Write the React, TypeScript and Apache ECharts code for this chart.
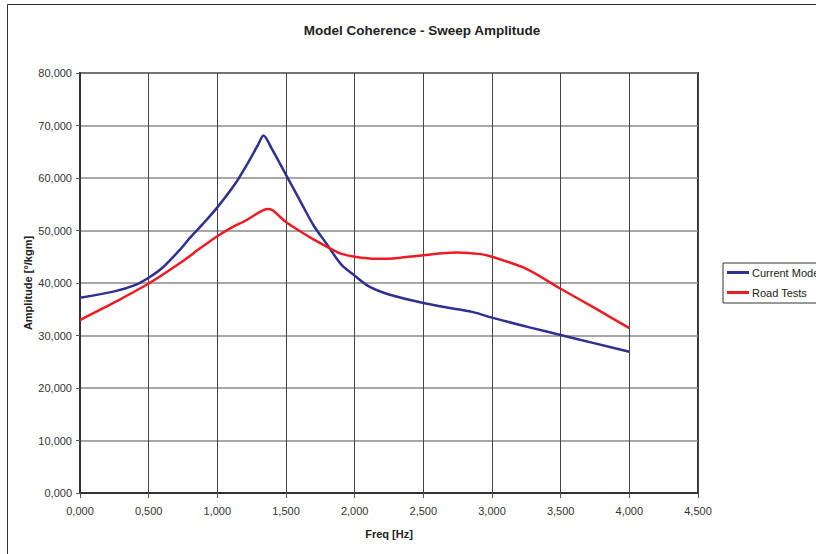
import React, { useEffect, useRef } from "react";
import * as echarts from "echarts";

const title = "Model Coherence - Sweep Amplitude";
const xAxisName = "Freq [Hz]";
const yAxisName = "Amplitude [°/kgm]";
const seriesNames = ["Current Model", "Road Tests"];

const currentFreq = [0, 0.25, 0.4, 0.5, 0.6, 0.73, 0.8, 0.9, 1.0, 1.13, 1.21, 1.3, 1.335, 1.4, 1.5, 1.6, 1.7, 1.8, 1.9, 2.0, 2.1, 2.25, 2.5, 2.75, 2.87, 3.0, 3.28, 3.5, 3.75, 4.0];
const currentAmp = [37.2, 38.4, 39.6, 41.0, 42.9, 46.4, 48.6, 51.4, 54.4, 58.9, 62.3, 66.5, 68.1, 65.4, 60.6, 55.8, 51.0, 47.3, 43.6, 41.4, 39.4, 37.8, 36.2, 35.0, 34.4, 33.4, 31.5, 30.1, 28.5, 26.9];

const roadFreq = [0, 0.25, 0.5, 0.75, 0.874, 1.0, 1.1, 1.214, 1.3, 1.364, 1.4, 1.5, 1.6, 1.7, 1.82, 1.9, 2.0, 2.16, 2.3, 2.5, 2.74, 2.92, 3.0, 3.25, 3.5, 3.75, 4.0];
const roadAmp = [32.95, 36.3, 39.9, 44.2, 46.6, 48.9, 50.5, 52.0, 53.4, 54.1, 53.9, 51.6, 49.9, 48.3, 46.6, 45.6, 45.0, 44.6, 44.7, 45.3, 45.8, 45.5, 45.0, 42.7, 38.9, 35.2, 31.4];

const fmt = (v: number) => v.toFixed(3).replace(".", ",");

export default function App() {
  const ref = useRef<HTMLDivElement>(null);
  useEffect(() => {
    document.body.style.margin = "0";
    if (!ref.current) return;
    const chart = echarts.init(ref.current, undefined, { renderer: "svg" });
    const font = "'Liberation Sans', Arial, sans-serif";
    chart.setOption({
      animation: false,
      backgroundColor: "#ffffff",
      textStyle: { fontFamily: font },
      title: {
        text: title,
        left: 417,
        top: 18,
        textAlign: "center",
        textStyle: { fontSize: 13.5, fontWeight: "bold", color: "#222", fontFamily: font },
      },
      graphic: [
        {
          type: "rect",
          shape: { x: 7.5, y: 4.5, width: 1200, height: 1200 },
          style: { fill: "none", stroke: "#333", lineWidth: 1 },
          silent: true,
          z: -10,
        },
      ],
      legend: {
        orient: "vertical",
        left: 723,
        top: 263,
        padding: [4, 40, 5, 4],
        itemGap: 9,
        itemWidth: 22,
        itemHeight: 3,
        icon: "rect",
        borderColor: "#333",
        borderWidth: 1,
        textStyle: { fontSize: 11, color: "#222", fontFamily: font, padding: [0, 0, 0, -2] },
        data: seriesNames,
      },
      grid: {
        left: 80,
        right: 118,
        top: 73,
        bottom: 61,
        show: true,
        borderColor: "#333",
        borderWidth: 2,
      },
      xAxis: {
        type: "value",
        min: 0,
        max: 4.5,
        interval: 0.5,
        name: xAxisName,
        nameLocation: "middle",
        nameGap: 35,
        nameMoveOverlap: false,
        nameTextStyle: { fontSize: 11, fontWeight: "bold", color: "#222", fontFamily: font },
        axisLine: { show: true, lineStyle: { color: "#333", width: 2 } },
        axisTick: { show: true, length: 5, lineStyle: { color: "#555" } },
        axisLabel: { formatter: fmt, fontSize: 11, color: "#333", margin: 12, fontFamily: font },
        splitLine: { show: true, lineStyle: { color: "#444", width: 1 } },
      },
      yAxis: {
        type: "value",
        min: 0,
        max: 80,
        interval: 10,
        name: yAxisName,
        nameLocation: "middle",
        nameGap: 47,
        nameMoveOverlap: false,
        nameRotate: 90,
        nameTextStyle: { fontSize: 11, fontWeight: "bold", color: "#222", fontFamily: font },
        axisLine: { show: true, lineStyle: { color: "#333", width: 2 } },
        axisTick: { show: true, length: 4, lineStyle: { color: "#555" } },
        axisLabel: { formatter: fmt, fontSize: 11, color: "#333", margin: 8, fontFamily: font },
        splitLine: { show: true, lineStyle: { color: "#8a8a8a", width: 1.5 } },
      },
      series: [
        {
          name: seriesNames[0],
          type: "line",
          data: currentFreq.map((f, i) => [f, currentAmp[i]]),
          symbol: "none",
          smooth: 0.3,
          lineStyle: { color: "#2E3192", width: 2.5 },
          itemStyle: { color: "#2E3192" },
        },
        {
          name: seriesNames[1],
          type: "line",
          data: roadFreq.map((f, i) => [f, roadAmp[i]]),
          symbol: "none",
          smooth: 0.3,
          lineStyle: { color: "#ED1C24", width: 2.5 },
          itemStyle: { color: "#ED1C24" },
        },
      ],
    });
    return () => chart.dispose();
  }, []);
  return <div ref={ref} style={{ width: 816, height: 554 }} />;
}
